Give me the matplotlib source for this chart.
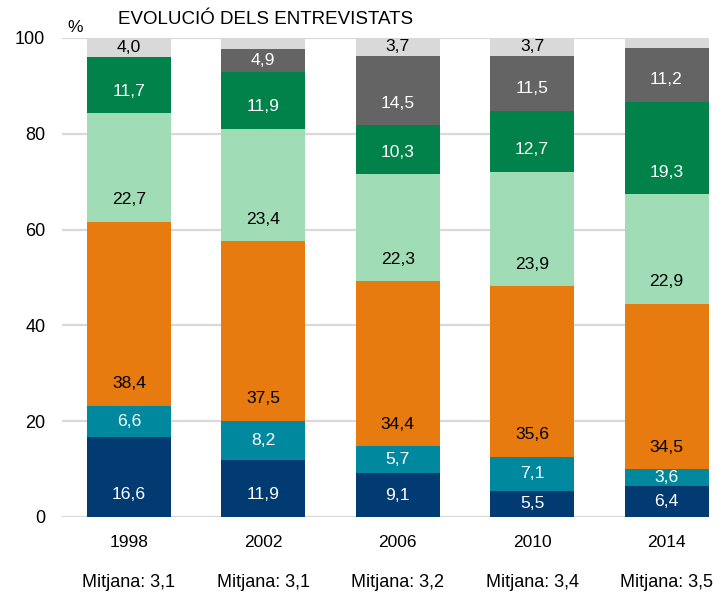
import numpy as np
import matplotlib
matplotlib.use("Agg")
from matplotlib import pyplot as plt

plt.rcParams['font.family'] = ['Liberation Sans', 'DejaVu Sans']

anys = ["1998", "2002", "2006", "2010", "2014"]
mitjana = ["3,1", "3,1", "3,2", "3,4", "3,5"]

# series from the bottom of each bar upwards
s1 = [16.6, 11.9, 9.1, 5.5, 6.4]
s2 = [6.6, 8.2, 5.7, 7.1, 3.6]
s3 = [38.4, 37.5, 34.4, 35.6, 34.5]
s4 = [22.7, 23.4, 22.3, 23.9, 22.9]
s5 = [11.7, 11.9, 10.3, 12.7, 19.3]
s6 = [0.0, 4.9, 14.5, 11.5, 11.2]
s7 = [4.0, 2.2, 3.7, 3.7, 2.1]

series = [s1, s2, s3, s4, s5, s6, s7]
colors = ["#023a72", "#00889f", "#e87b10", "#a0dcb6", "#00824a", "#646464", "#d9d9d9"]
txt_colors = ["white", "white", "black", "black", "white", "white", "black"]

fig = plt.figure(figsize=(7.19, 5.99), dpi=100)
ax = fig.add_axes([0.0862, 0.1369, 0.8999, 0.7997])

x = np.arange(len(anys))
width = 0.625
bottom = np.zeros(len(anys))
for vals, c, tc in zip(series, colors, txt_colors):
    vals = np.array(vals)
    ax.bar(x, vals, width, bottom=bottom, color=c, zorder=3)
    for i in range(len(anys)):
        v = vals[i]
        if v < 3:
            continue
        ypos = bottom[i] + min(4.6, v / 2)
        ax.text(x[i], ypos, "{:.1f}".format(v).replace(".", ","),
                ha="center", va="center", color=tc, fontsize=12.6, zorder=4)
    bottom = bottom + vals

ax.set_ylim(0, 100)
ax.set_xlim(-0.4985, 4.316)
ax.set_yticks([0, 20, 40, 60, 80, 100])
ax.set_xticks(x)
ax.set_xticklabels(anys)
ax.yaxis.grid(True, color="#d9d9d9", linewidth=1.6, zorder=0)
ax.set_axisbelow(True)
for sp in ax.spines.values():
    sp.set_visible(False)
ax.tick_params(axis="both", length=0, colors="black")
ax.tick_params(axis="x", pad=13, labelsize=12.5)
ax.tick_params(axis="y", pad=12, labelsize=13)

for i in range(len(anys)):
    ax.text(x[i], -0.136, "Mitjana: " + mitjana[i], transform=ax.get_xaxis_transform(),
            ha="center", va="center", fontsize=13)

fig.text(75 / 719, 1 - 27 / 599, "%", ha="center", va="center", fontsize=12.5)
fig.text(118 / 719, 1 - 20 / 599, "EVOLUCIÓ DELS ENTREVISTATS", ha="left", va="center", fontsize=13.5)

fig.savefig("out.png", dpi=100)
